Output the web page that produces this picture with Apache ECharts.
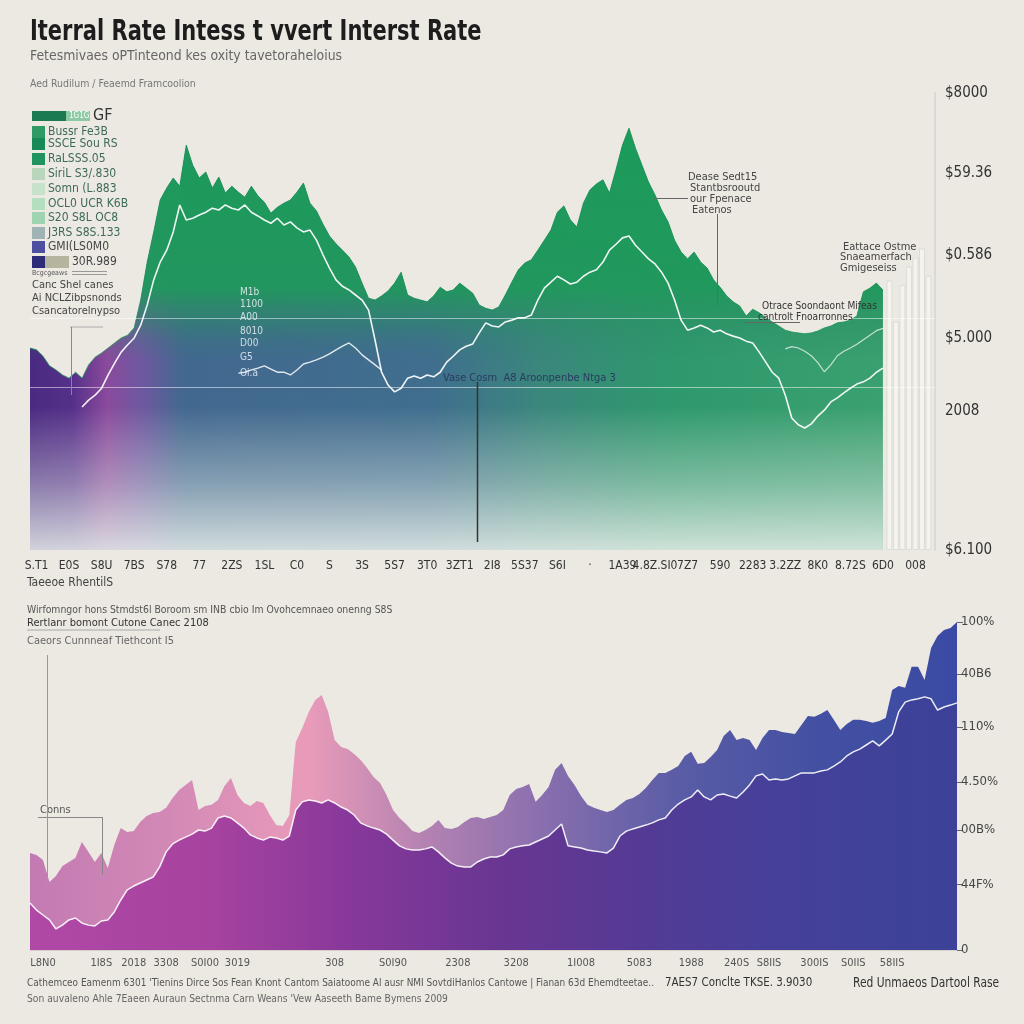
<!DOCTYPE html>
<html>
<head>
<meta charset="utf-8">
<script src="https://cdn.jsdelivr.net/npm/echarts@6/dist/echarts.min.js"></script>
<style>
html,body{margin:0;padding:0;background:#ece9e2;}
#chart{width:1024px;height:1024px;}
</style>
</head>
<body>
<div id="chart"></div>
<script>
// ---------------- DATA ----------------
// Upper panel: spiky envelope (index 0..131), white trend lines
const topEnvelope = [44.2,43.8,42.4,40.3,39.4,38.3,37.6,38.9,37.6,40.5,
42.2,43.1,44.2,45.3,46.4,47.0,48.6,54.7,63.0,69.6,
76.6,79.2,81.4,79.6,88.6,84.2,81.4,82.7,79.2,81.6,
78.1,79.6,78.3,77.2,79.6,77.5,76.1,73.7,75.0,75.9,
76.6,78.3,80.3,75.9,74.2,71.3,68.7,67.0,65.6,64.1,
61.9,58.4,55.1,54.7,55.6,56.7,58.4,60.8,55.8,55.1,
54.7,54.3,55.6,57.5,56.5,56.9,58.4,57.3,56.2,53.6,
52.9,52.5,53.2,55.8,58.6,61.3,62.8,63.5,65.6,67.8,
70.0,73.9,75.3,72.2,70.7,75.9,78.8,80.1,81.0,78.1,
83.2,88.6,92.3,87.9,84.2,80.5,77.7,74.4,71.8,67.8,
65.2,63.7,65.2,63.0,61.7,59.1,57.5,55.6,54.3,53.4,
51.2,52.7,51.9,50.8,49.9,49.0,48.1,47.7,47.5,47.3,
47.5,47.9,48.6,49.0,49.7,49.9,50.3,51.2,56.5,57.3,
58.4,56.9];
const topLineStart = 8;
const topLine = [31.3,32.8,33.9,35.4,38.3,40.9,43.3,44.9,46.4,49.2,
53.6,59.1,63.0,65.6,69.6,75.5,72.2,72.6,73.3,73.9,
74.8,74.4,75.5,74.8,74.4,75.5,73.9,73.1,72.2,71.5,
72.6,71.1,71.8,70.5,69.6,70.0,67.8,64.6,61.7,59.1,
57.7,56.9,55.8,54.7,52.5,45.9,38.9,36.1,34.6,35.4,
37.6,38.1,37.6,38.3,37.9,38.9,41.1,42.4,43.8,44.6,
45.1,47.5,49.7,49.0,48.8,49.9,50.3,50.8,50.8,51.4,
54.7,57.3,58.6,59.9,59.1,58.2,58.6,59.9,60.8,61.3,
63.0,65.6,66.9,68.3,68.7,66.7,65.2,63.7,62.6,60.8,
58.4,54.7,50.3,48.1,48.6,49.2,48.6,47.7,48.1,47.3,
46.8,46.4,45.7,45.3,43.3,41.1,38.9,37.6,33.9,28.9,
27.4,26.7,27.6,29.3,30.6,32.4,33.3,34.4,35.4,36.3,
36.8,37.6,38.9,39.8];
const topLine2Start = 32;
const topLine2 = [38.7,38.9,39.4,39.8,40.3,39.6,38.9,38.9,38.3,39.4,40.7,41.1,41.6,42.2,42.9,43.8,44.6,45.3,44.2,42.7,41.6,40.5,39.4];
const topLine3Start = 116;
const topLine3 = [44.0,44.5,44.2,43.5,42.5,41.0,39.0,40.5,42.5,43.5,44.2,45.0,46.0,47.0,48.0,48.5];
const topGhostStart = 132;
const topGhost = [59,50,58,62,64,66,60];
const topCount = 140;
const topXLabels = ["S.T1","E0S","S8U","7BS","S78","77","2ZS","1SL","C0","S","3S","5S7","3T0","3ZT1","2I8","5S37","S6I","·","1A39","4.8Z.SI0","7Z7","590","2283","3.2ZZ","8K0","8.72S","6D0","008"];
const topYValues = [0,30.4,46.4,64.5,82.5,100];
const topYLabels = ["$6.100","2008","$5.000","$0.586","$59.36","$8000"];

// Lower panel
const botEnvelope = [35.5,34.8,32.9,24.9,27.1,30.7,32.2,33.7,39.5,35.9,
32.2,35.5,30.0,38.4,44.6,43.2,43.5,46.8,49.0,50.1,
50.5,52.0,55.6,58.5,60.4,62.2,51.2,52.7,53.1,54.9,
60.0,62.9,56.7,53.8,52.7,54.5,53.8,49.4,45.7,45.4,
49.4,76.1,81.2,87.1,91.5,93.3,87.1,76.8,74.3,73.5,
71.7,69.5,66.6,63.3,61.1,56.7,51.2,48.3,46.1,43.5,
42.8,43.9,45.4,47.6,44.6,44.3,45.0,46.8,48.3,48.7,
47.9,48.7,49.4,51.2,56.7,58.9,59.6,60.7,54.2,56.7,
59.6,65.9,68.4,63.7,60.4,56.3,53.1,52.0,51.2,50.5,
51.2,53.1,54.9,55.6,57.1,59.3,62.2,64.8,64.8,65.9,
67.3,71.0,72.5,68.1,68.4,70.6,73.2,78.3,80.5,76.8,
77.6,76.8,73.2,77.6,80.5,80.5,79.8,79.4,79.0,82.3,
85.6,85.3,86.4,87.8,84.2,80.5,82.7,84.2,84.2,83.8,
83.1,83.8,84.9,95.1,96.6,95.9,103.6,103.6,98.8,110.5,
114.9,117.1,117.8,120];
const botLine = [17.2,14.6,12.8,11.0,7.7,9.1,11.0,11.7,9.9,9.1,
8.8,10.6,11.0,13.9,18.3,22.0,23.4,24.5,25.6,26.7,
30.4,35.9,38.8,40.2,41.3,42.4,43.9,43.5,44.6,48.3,
49.0,48.3,46.5,44.6,42.1,41.0,40.2,41.3,41.0,40.2,
41.7,51.2,54.2,54.9,54.5,53.8,54.9,53.8,52.3,51.2,
49.4,46.5,45.4,44.6,43.9,42.4,40.2,38.1,37.0,36.6,
36.6,37.0,37.7,35.9,33.7,31.8,30.7,30.4,30.4,32.2,
33.3,34.0,34.0,34.8,37.0,37.7,38.1,38.4,39.5,40.6,
41.7,43.9,46.1,38.1,37.7,37.3,36.6,36.2,35.9,35.5,
37.3,41.7,43.5,44.3,45.0,45.7,46.5,47.6,48.3,51.2,
53.4,54.9,56.0,58.5,56.0,54.9,56.7,57.1,56.3,55.6,
57.8,60.4,63.7,64.4,62.2,62.6,62.2,62.6,63.7,64.8,
64.8,64.8,65.5,65.9,67.3,68.8,71.0,72.5,73.5,75.0,
76.5,74.7,76.8,79.0,87.1,90.7,91.5,91.9,92.6,91.9,
87.8,88.9,89.6,90.4];
const botXLabels = {2:"L8N0",11:"1I8S",16:"2018",21:"3308",27:"S0I00",32:"3019",47:"308",56:"S0I90",66:"2308",75:"3208",85:"1I008",94:"5083",102:"1988",109:"240S",114:"S8IIS",121:"300IS",127:"S0IIS",133:"58IIS"};
const botYValues = [0,24.1,43.9,61.5,81.6,101,120];
const botYLabels = ["0","44F%","00B%","4.50%","110%","40B6","100%"];

// ---------------- HELPERS ----------------
const FONT = "'DejaVu Sans Condensed','Liberation Sans',Arial,sans-serif";
const topCats = Array.from({length: topCount}, (_, i) => 't' + i);
const botCats = botEnvelope.map((_, i) => 'b' + i);
const pad = (start, arr) => Array(start).fill('-').concat(arr);
const nearestLabel = (vals, labs, v) => {
  let best = 0; for (let i = 1; i < vals.length; i++) if (Math.abs(vals[i]-v) < Math.abs(vals[best]-v)) best = i;
  return Math.abs(vals[best]-v) < 0.5 ? labs[best] : '';
};
const lin = (x, y, x2, y2, stops) => ({type:'linear', x, y, x2, y2, colorStops: stops.map(s => ({offset:s[0], color:s[1]}))});
const txt = (x, y, s, size, color, weight, sx) => ({
  type:'text', x, y, z:100, scaleX: sx || 1,
  style:{text:s, fill:color, fontSize:size, fontFamily:FONT, fontWeight:weight||'normal', verticalAlign:'middle'}
});
const ln = (x1, y1, x2, y2, color, w) => ({type:'line', z:100, shape:{x1,y1,x2,y2}, style:{stroke:color, lineWidth:w||1}});
const rect = (x, y, w, h, color) => ({type:'rect', z:100, shape:{x,y,width:w,height:h}, style:{fill:color}});

// ---------------- GRAPHICS (text / legend / annotations) ----------------
const legendItems = ["Bussr Fe3B","SSCE Sou RS","RaLSSS.05","SiriL S3/.830","Somn (L.883","OCL0 UCR K6B","S20 S8L OC8","J3RS S8S.133","GMI(LS0M0","30R.989"];
const legendColors = ['#2f9a64','#178a58','#1f9460','#b7d6bc','#c6e2cb','#b4dec0','#9fd3b2','#9fb3b5','#4d50a0','#2d2c78'];
const legendY = [132,144,159,174,189,204,218,233,247,262];

const graphics = [
  txt(30, 33, "Iterral Rate Intess t vvert Interst Rate", 28, '#1d1d1d', 'bold', 0.834),
  txt(30, 56, "Fetesmivaes oPTinteond kes oxity tavetoraheloius", 14, '#666', 'normal', 0.99),
  txt(30, 84, "Aed Rudilum / Feaemd Framcoolion", 11, '#777', 'normal', 0.95),
  rect(32, 111, 34, 10, '#1b7a52'),
  rect(66, 111, 24, 10, '#8cc9a4'),
  txt(69, 116, "1G1G", 8, '#ffffff'),
  txt(93, 116, "GF", 16, '#333', 'normal'),
  rect(45, 256, 24, 12, '#b5b49e'),
  txt(32, 273, "Bcgcgeaws", 7, '#555'),
  ln(72, 271.5, 107, 271.5, '#999', 1), ln(72, 274.5, 107, 274.5, '#999', 1),
  txt(32, 285, "Canc Shel canes", 11, '#444'),
  txt(32, 298, "Ai NCLZibpsnonds", 11, '#444'),
  txt(32, 311, "Csancatorelnypso", 11, '#444'),
  ln(70, 327, 103, 327, '#aaa', 1), ln(71.5, 327, 71.5, 395, '#888', 1),
  // annotations upper
  txt(688, 177, "Dease Sedt15", 11, '#444'),
  txt(690, 188, "Stantbsrooutd", 11, '#444'),
  txt(690, 199, "our Fpenace", 11, '#444'),
  txt(692, 210, "Eatenos", 11, '#444'),
  ln(653, 198.5, 688, 198.5, '#666', 1), ln(717.5, 214, 717.5, 305, '#666', 1),
  txt(843, 247, "Eattace Ostme", 11, '#444'),
  txt(840, 257, "Snaeamerfach", 11, '#444'),
  txt(840, 268, "Gmigeseiss", 11, '#444'),
  txt(762, 306, "Otrace Soondaont Mifeas", 11, '#333', 'normal', 0.92),
  txt(758, 317, "cantrolt Fnoarronnes", 11, '#333', 'normal', 0.92),
  ln(745, 322.5, 800, 322.5, '#666', 1),
  txt(443, 378, "Vase Cosm  A8 Aroonpenbe Ntga 3", 11, '#2b3a63'),
  ln(477.5, 382, 477.5, 542, '#333', 1.5),
  // middle texts
  txt(27, 583, "Taeeoe RhentilS", 12, '#444'),
  txt(27, 610, "Wirfomngor hons Stmdst6l Boroom sm INB cbio Im Ovohcemnaeo onenng S8S", 11, '#555', 'normal', 0.94),
  txt(27, 623, "Rertlanr bomont Cutone Canec 2108", 11, '#333'),
  ln(27, 630, 160, 630, '#aaa', 1),
  txt(27, 641, "Caeors Cunnneaf Tiethcont I5", 11, '#666'),
  // lower annotation
  txt(40, 810, "Conns", 11, '#555'),
  ln(38, 817.5, 102, 817.5, '#888', 1), ln(102.5, 817, 102.5, 875, '#888', 1),
  ln(47.5, 655, 47.5, 890, '#999', 1),
  // footer
  txt(27, 983, "Cathemceo Eamenm 6301 'Tienins Dirce Sos Fean Knont Cantom Saiatoome Al ausr NMI SovtdiHanlos Cantowe | Fianan 63d Ehemdteetae..", 11, '#555', 'normal', 0.905),
  txt(665, 983, "7AES7 Conclte TKSE. 3.9030", 13, '#333', 'normal', 0.88),
  txt(853, 983, "Red Unmaeos Dartool Rase", 14, '#333', 'normal', 0.85),
  txt(27, 999, "Son auvaleno Ahle 7Eaeen Auraun Sectnma Carn Weans 'Vew Aaseeth Bame Bymens 2009", 11, '#666', 'normal', 0.93)
];
legendItems.forEach((name, i) => {
  graphics.push(rect(32, legendY[i]-6, 13, 12, legendColors[i]));
  graphics.push(txt(i === 9 ? 72 : 48, legendY[i], name, 12, i >= 8 ? '#444' : '#3d6a56'));
});
const innerLabels = ["M1b","1100","A00","8010","D00","G5","Oi.a"];
const innerY = [292,304,317,331,343,357,373];
innerLabels.forEach((s, i) => graphics.push(txt(240, innerY[i], s, 10, 'rgba(225,232,240,0.9)')));

// ---------------- CHART ----------------
const chart = echarts.init(document.getElementById('chart'), null, {renderer:'canvas'});
const option = {
  backgroundColor: '#ece9e2',
  animation: false,
  textStyle: {fontFamily: FONT},
  grid: [
    {left: 30, right: 89, top: 93, height: 457},
    {left: 30, right: 67, top: 622, height: 328}
  ],
  xAxis: [
    {type:'category', gridIndex:0, data: topCats, boundaryGap:false,
     axisLine:{show:false}, axisTick:{show:false}, splitLine:{show:false},
     axisLabel:{interval:(idx) => (idx - 1) % 5 === 0, margin:10, color:'#333', fontSize:12, fontFamily:FONT, hideOverlap:false,
       formatter:(v, idx) => ((idx - 1) % 5 === 0 ? (topXLabels[(idx - 1) / 5] || '') : '')}},
    {type:'category', gridIndex:0, data: topCats, boundaryGap:false, show:false},
    {type:'category', gridIndex:1, data: botCats, boundaryGap:false,
     axisLine:{show:true, lineStyle:{color:'#d6d1ca'}}, axisTick:{show:false}, splitLine:{show:false},
     axisLabel:{interval:0, margin:8, color:'#555', fontSize:11, fontFamily:FONT, hideOverlap:false,
       formatter:(v, idx) => botXLabels[idx] || ''}},
    {type:'category', gridIndex:1, data: botCats, boundaryGap:false, show:false}
  ],
  yAxis: [
    {type:'value', gridIndex:0, position:'right', min:0, max:100,
     axisLine:{show:true, lineStyle:{color:'#d9dad4', width:2}}, axisTick:{show:false}, splitLine:{show:false},
     axisLabel:{customValues: topYValues, margin:10, color:'#333', fontSize:15, fontFamily:FONT,
       formatter: v => nearestLabel(topYValues, topYLabels, v)}},
    {type:'value', gridIndex:1, position:'right', min:0, max:120,
     axisLine:{show:false}, splitLine:{show:false},
     axisTick:{show:true, customValues: botYValues, length:6, lineStyle:{color:'#666'}},
     axisLabel:{customValues: botYValues, margin:4, color:'#444', fontSize:13, fontFamily:FONT,
       formatter: v => nearestLabel(botYValues, botYLabels, v)}}
  ],
  series: [
    // ---- upper panel ----
    {type:'line', name:'Envelope', xAxisIndex:0, yAxisIndex:0, data: topEnvelope, symbol:'none',
     lineStyle:{width:0.8, color:'#1d9259'},
     areaStyle:{opacity:1, color: lin(0,0,1,0,[[0,'#4a2a80'],[0.05,'#55308a'],[0.09,'#8a4a9c'],[0.13,'#6e58a0'],[0.18,'#42688f'],[0.47,'#406e8e'],[0.6,'#3a877c'],[0.75,'#2e996c'],[1,'#3aa070']])},
     markLine:{silent:true, symbol:'none', label:{show:false},
       lineStyle:{color:'rgba(255,255,255,0.5)', type:'solid', width:1},
       data:[{yAxis:50.8},{yAxis:35.7}]}},
    {type:'line', name:'EnvelopeGreen', xAxisIndex:0, yAxisIndex:0, data: topEnvelope, symbol:'none',
     lineStyle:{width:0},
     areaStyle:{opacity:1, color: lin(0,0,0,1,[[0,'rgba(28,155,90,1)'],[0.38,'rgba(32,152,92,0.95)'],[0.44,'rgba(38,146,96,0.6)'],[0.5,'rgba(40,138,100,0.2)'],[0.55,'rgba(40,130,100,0)']])}},
    {type:'line', name:'EnvelopeFade', xAxisIndex:0, yAxisIndex:0, data: topEnvelope, symbol:'none',
     lineStyle:{width:0},
     areaStyle:{opacity:1, color: lin(0,0,0,1,[[0,'rgba(236,236,230,0)'],[0.66,'rgba(236,236,230,0)'],[0.84,'rgba(226,233,228,0.42)'],[1,'rgba(232,238,234,0.86)']])}},
    {type:'bar', name:'TopGrid', xAxisIndex:1, yAxisIndex:0, barWidth:1, silent:true,
     data: topEnvelope.map((v, i) => i % 4 === 2 ? v : '-'),
     itemStyle:{color:'rgba(255,255,255,0.42)'}},
    {type:'bar', name:'TopGhost', xAxisIndex:0, yAxisIndex:0, barWidth:6,
     data: pad(topGhostStart, topGhost),
     itemStyle:{color:'rgba(250,250,247,0.6)', borderColor:'#dcddd6', borderWidth:1}},
    {type:'line', name:'TopLine', xAxisIndex:0, yAxisIndex:0, data: pad(topLineStart, topLine), symbol:'none',
     lineStyle:{width:1.6, color:'rgba(255,255,255,0.92)'}},
    {type:'line', name:'TopLine2', xAxisIndex:0, yAxisIndex:0, data: pad(topLine2Start, topLine2), symbol:'none',
     lineStyle:{width:1.4, color:'rgba(255,255,255,0.85)'}},
    {type:'line', name:'TopLine3', xAxisIndex:0, yAxisIndex:0, data: pad(topLine3Start, topLine3), symbol:'none',
     lineStyle:{width:1.2, color:'rgba(255,255,255,0.7)'}},
    // ---- lower panel ----
    {type:'line', name:'BotEnvelope', xAxisIndex:2, yAxisIndex:1, data: botEnvelope, symbol:'none',
     lineStyle:{width:0},
     areaStyle:{opacity:1, color: lin(0,0,1,0,[[0,'#c27ab2'],[0.15,'#d389b6'],[0.3,'#e99bb9'],[0.42,'#b683b2'],[0.55,'#8a6fae'],[0.7,'#5a5ca6'],[0.85,'#4350a2'],[1,'#3b4aa4']])}},
    {type:'line', name:'BotBody', xAxisIndex:2, yAxisIndex:1, data: botLine, symbol:'none',
     lineStyle:{width:1.5, color:'rgba(255,255,255,0.9)'},
     areaStyle:{opacity:1, color: lin(0,0,1,0,[[0,'#b048a6'],[0.2,'#a6429f'],[0.35,'#86389a'],[0.5,'#6a3692'],[0.65,'#553a94'],[0.8,'#46409a'],[1,'#3c4298']])}},
    {type:'bar', name:'BotGrid', xAxisIndex:3, yAxisIndex:1, barWidth:1, silent:true,
     data: botEnvelope.map((v, i) => i % 4 === 1 ? v : '-'),
     itemStyle:{color:'rgba(255,255,255,0.3)'}}
  ],
  graphic: graphics
};
chart.setOption(option);
</script>
</body>
</html>
